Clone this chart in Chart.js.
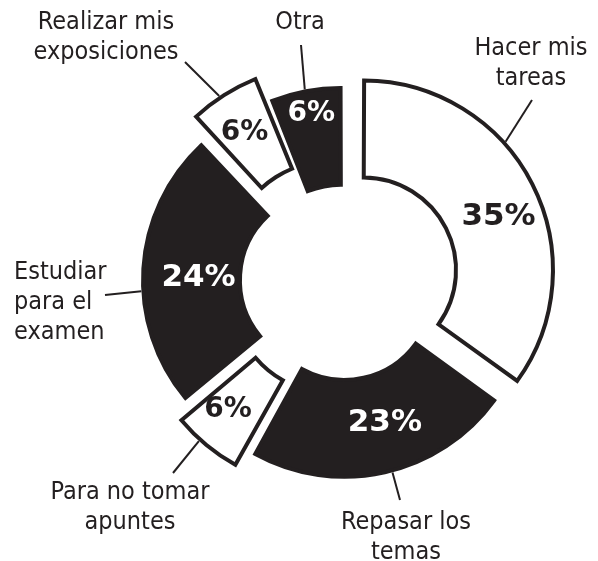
<!DOCTYPE html>
<html><head><meta charset="utf-8">
<script src="https://cdn.jsdelivr.net/npm/chart.js@4.4.1/dist/chart.umd.min.js"></script>
<style>html,body{margin:0;padding:0;background:#fff;}canvas{display:block}</style>
</head><body>
<canvas id="c" width="598" height="561"></canvas>
<script>
// ---- data ----
const categories = ['Hacer mis tareas','Repasar los temas','Para no tomar apuntes','Estudiar para el examen','Realizar mis exposiciones','Otra'];
const labelLines = [['Hacer mis','tareas'],['Repasar los','temas'],['Para no tomar','apuntes'],['Estudiar','para el','examen'],['Realizar mis','exposiciones'],['Otra']];
const values = [35,23,6,24,6,6];
const pctLabels = ['35%','23%','6%','24%','6%','6%'];

// ---- styles / layout ----
const INK = '#231f20';
const fills = ['#ffffff',INK,'#ffffff',INK,'#ffffff',INK];
const pctColors = [INK,'#ffffff',INK,'#ffffff',INK,'#ffffff'];
const pctSizes = [31,31,28,31,28,28];
const explode = [96,44,68,56,86,20];
// percentage label nudges: [deg, px] relative to slice middle
const pctNudge = [[5.7,4],[-4.5,1],[2,8],[-2.7,-7],[-1,6],[0.4,25]];
// leader: angle on slice edge (deg clockwise from top) and outer end
const leaders = [
  {a:47.9, end:[532,100]},
  {a:165.1, end:[400,500]},
  {a:222, end:[173,473]},
  {a:266.6, end:[105,295]},
  {a:326.3, end:[185,62]},
  {a:349, end:[301,45]}
];
const textPos = [
  {x:531,y:48,align:'center'},
  {x:406,y:522,align:'center'},
  {x:130,y:492,align:'center'},
  {x:14,y:272,align:'left'},
  {x:106,y:22,align:'center'},
  {x:300,y:22,align:'center'}
];
const LABEL_FONT = "25px 'DejaVu Sans Condensed', 'Liberation Sans Narrow', sans-serif";
const LINE_H = 30;

const labelPlugin = {
  id:'labels',
  afterDatasetsDraw(chart){
    const ctx = chart.ctx;
    const meta = chart.getDatasetMeta(0);
    meta.data.forEach((arc,i)=>{
      const p = arc.getProps(['x','y','startAngle','endAngle','innerRadius','outerRadius']);
      const off = (arc.options.offset||0)/4;
      const bw = arc.options.borderWidth||0;
      const h = (p.startAngle+p.endAngle)/2;
      const fix = 1 - Math.sin(Math.min(Math.PI, p.endAngle-p.startAngle));
      const bump = off*fix;
      const tx = p.x + Math.cos(h)*off, ty = p.y + Math.sin(h)*off;
      // percentage
      const pa = h + pctNudge[i][0]*Math.PI/180;
      const pr = (p.innerRadius+p.outerRadius)/2 + bump + pctNudge[i][1];
      ctx.save();
      ctx.fillStyle = pctColors[i];
      ctx.font = `bold ${pctSizes[i]}px 'DejaVu Sans', sans-serif`;
      ctx.textAlign='center'; ctx.textBaseline='middle';
      ctx.fillText(pctLabels[i], tx+Math.cos(pa)*pr, ty+Math.sin(pa)*pr);
      // leader
      const la = (leaders[i].a-90)*Math.PI/180;
      const lr = p.outerRadius + bump + bw/2;
      ctx.strokeStyle = INK; ctx.lineWidth = 2;
      ctx.beginPath();
      ctx.moveTo(tx+Math.cos(la)*lr, ty+Math.sin(la)*lr);
      ctx.lineTo(leaders[i].end[0], leaders[i].end[1]);
      ctx.stroke();
      // category text
      ctx.fillStyle = INK;
      ctx.font = LABEL_FONT;
      ctx.textAlign = textPos[i].align; ctx.textBaseline='middle';
      labelLines[i].forEach((ln,k)=>ctx.fillText(ln, textPos[i].x, textPos[i].y + k*LINE_H));
      ctx.restore();
    });
  }
};

new Chart(document.getElementById('c'),{
  type:'doughnut',
  data:{labels:categories,datasets:[{
    data:values,
    backgroundColor:fills,
    borderColor:INK,
    borderWidth:4,
    borderJoinStyle:'miter',
    offset:explode,
    clip:false
  }]},
  options:{
    responsive:false,
    devicePixelRatio:1,
    animation:false,
    events:[],
    radius:185,
    cutout:'47.6%',
    layout:{padding:{left:86,right:0,top:1,bottom:0}},
    plugins:{legend:{display:false},tooltip:{enabled:false}}
  },
  plugins:[labelPlugin]
});
</script>
</body></html>
